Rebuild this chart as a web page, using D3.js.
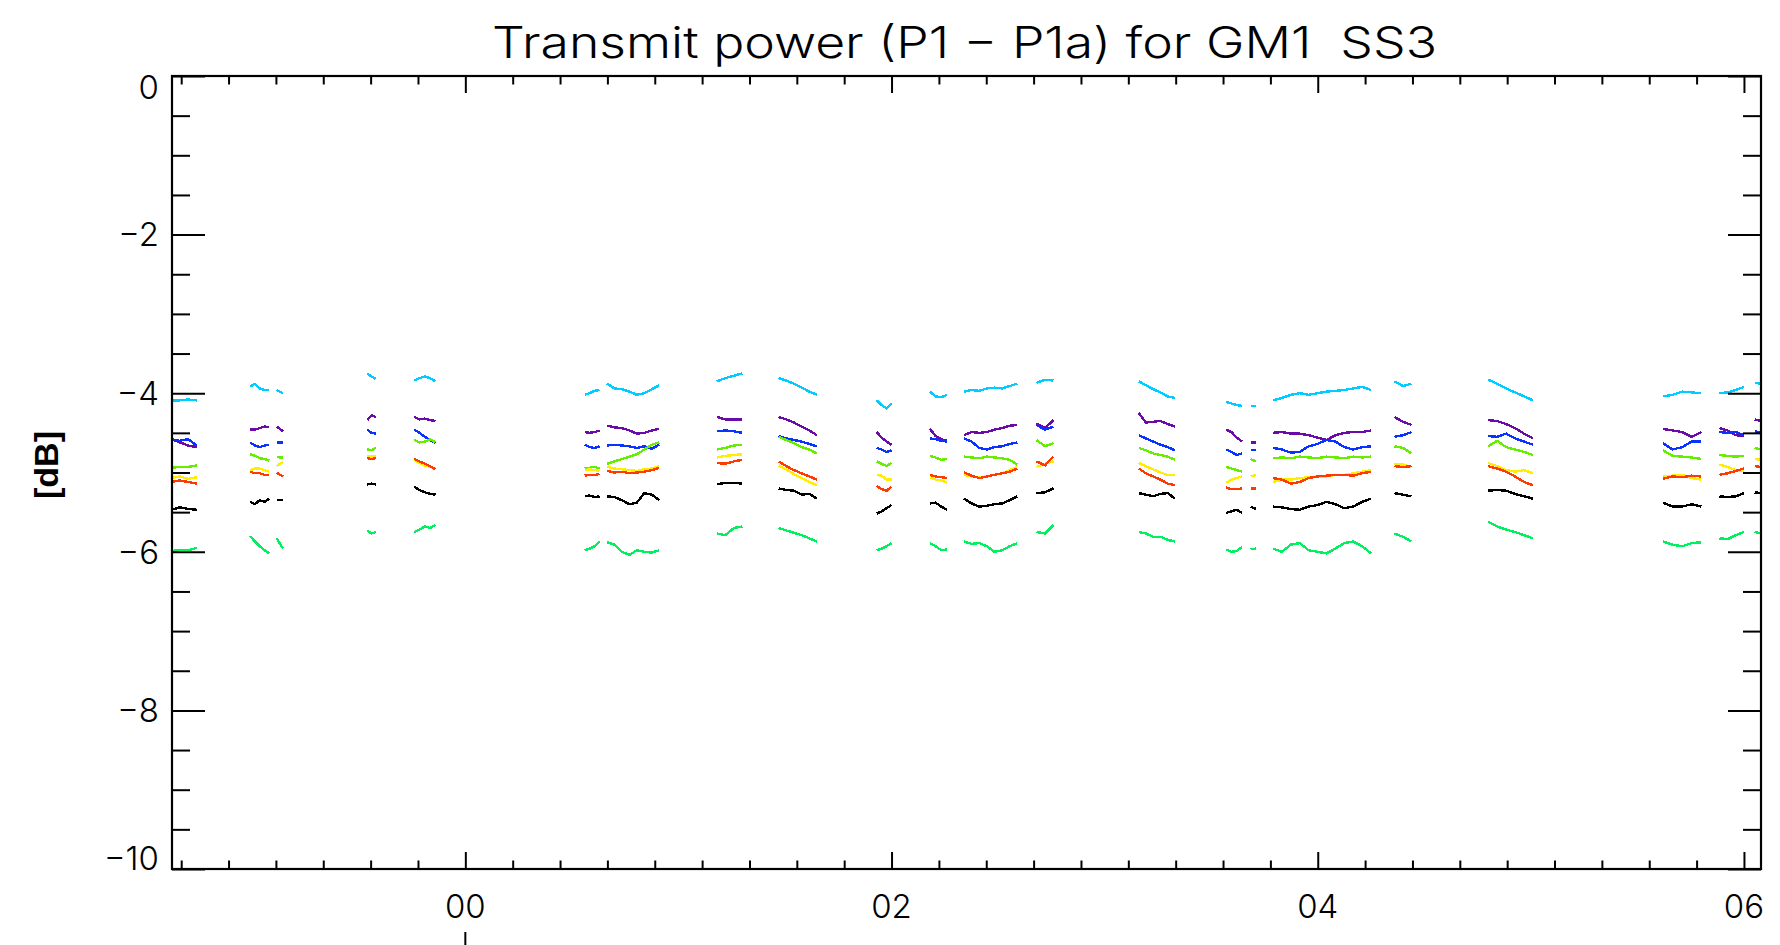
<!DOCTYPE html>
<html><head><meta charset="utf-8">
<script src="https://cdn.jsdelivr.net/npm/d3@7/dist/d3.min.js"></script>
<style>body{margin:0;background:#fff;} svg{display:block}</style>
</head><body><svg id="c" width="1780" height="945"></svg>
<script>
// ---------------- data ----------------
const title = "Transmit power (P1 \u2212 P1a) for GM1  SS3";
const yTitle = "[dB]";
const xDomain = [1998.6235, 2006.08];
const yDomain = [-10, 0];
const xMajorTicks = [2000, 2002, 2004, 2006];
const xTickLabels = ["00", "02", "04", "06"];
const yMajorTicks = [0, -2, -4, -6, -8, -10];
const yTickLabels = ["0", "\u22122", "\u22124", "\u22126", "\u22128", "\u221210"];

// observation segments (decimal years): A B1 B2 C D E1 E2 F G H I J K L M1 M2 N O P Q R S
const segStart = [1998.62,1998.99,1999.115,1999.54,1999.76,2000.56,2000.665,2001.18,2001.47,2001.93,2002.18,2002.34,2002.68,2003.16,2003.57,2003.685,2003.79,2004.36,2004.80,2005.62,2005.885,2006.05];
const segEnd   = [1998.74,1999.08,1999.145,1999.58,1999.86,2000.63,2000.91,2001.30,2001.65,2002.00,2002.26,2002.59,2002.76,2003.33,2003.645,2003.71,2004.25,2004.44,2005.01,2005.80,2006.00,2006.08];

const seriesColors = ["#00ccff","#6a0aa8","#0a32ff","#66ee00","#ffee00","#ff3a00","#000000","#00f060"];

const cyanS = [
 [-4.09,-4.09,-4.08,-4.09],
 [-3.92,-3.88,-3.94,-3.96,-3.96],
 [-3.96,-3.98,-4.0],
 [-3.75,-3.79,-3.82],
 [-3.84,-3.81,-3.79,-3.81,-3.85],
 [-4.02,-4.0,-3.97,-3.96],
 [-3.88,-3.94,-3.95,-3.98,-4.02,-4.0,-3.95,-3.90],
 [-3.85,-3.81,-3.78,-3.75],
 [-3.81,-3.84,-3.88,-3.93,-3.98,-4.02],
 [-4.09,-4.15,-4.19,-4.13],
 [-3.98,-4.04,-4.05,-4.02],
 [-3.98,-3.96,-3.97,-3.94,-3.93,-3.94,-3.91,-3.88],
 [-3.87,-3.83,-3.84],
 [-3.85,-3.90,-3.95,-3.99,-4.04,-4.06],
 [-4.11,-4.13,-4.15,-4.16],
 [-4.16,-4.16],
 [-4.09,-4.06,-4.02,-4.0,-4.02,-4.0,-3.98,-3.97,-3.96,-3.94,-3.92,-3.96],
 [-3.85,-3.91,-3.88],
 [-3.83,-3.88,-3.94,-3.99,-4.04,-4.09],
 [-4.04,-4.02,-3.98,-3.99,-4.0],
 [-4.0,-3.99,-3.96,-3.92],
 [-3.87,-3.88]
];
const purpleS = [
 [-4.58,-4.62,-4.66,-4.68],
 [-4.46,-4.46,-4.44,-4.42,-4.43],
 [-4.42,-4.45,-4.48],
 [-4.34,-4.28,-4.30],
 [-4.30,-4.33,-4.32,-4.34,-4.35],
 [-4.49,-4.50,-4.49,-4.47],
 [-4.41,-4.43,-4.44,-4.47,-4.51,-4.50,-4.47,-4.45],
 [-4.30,-4.33,-4.33,-4.33],
 [-4.30,-4.33,-4.37,-4.42,-4.47,-4.53],
 [-4.49,-4.56,-4.61,-4.65],
 [-4.45,-4.54,-4.58,-4.60],
 [-4.53,-4.49,-4.50,-4.49,-4.46,-4.44,-4.41,-4.40],
 [-4.38,-4.44,-4.34],
 [-4.25,-4.37,-4.36,-4.35,-4.39,-4.42],
 [-4.46,-4.49,-4.56,-4.61],
 [-4.62,-4.62],
 [-4.50,-4.49,-4.51,-4.51,-4.53,-4.56,-4.59,-4.53,-4.50,-4.49,-4.49,-4.47],
 [-4.30,-4.36,-4.40],
 [-4.34,-4.35,-4.39,-4.44,-4.51,-4.57],
 [-4.45,-4.47,-4.49,-4.55,-4.49],
 [-4.44,-4.47,-4.53,-4.54],
 [-4.33,-4.35]
];
const blueS = [
 [-4.58,-4.60,-4.58,-4.66],
 [-4.62,-4.66,-4.68,-4.66,-4.65],
 [-4.62,-4.62,-4.62],
 [-4.46,-4.50,-4.51],
 [-4.46,-4.50,-4.55,-4.59,-4.63],
 [-4.65,-4.68,-4.69,-4.67],
 [-4.66,-4.65,-4.66,-4.67,-4.69,-4.67,-4.70,-4.65],
 [-4.48,-4.47,-4.48,-4.50],
 [-4.54,-4.57,-4.59,-4.61,-4.64,-4.67],
 [-4.69,-4.71,-4.74,-4.72],
 [-4.57,-4.58,-4.60,-4.61],
 [-4.57,-4.61,-4.69,-4.71,-4.68,-4.67,-4.64,-4.62],
 [-4.40,-4.46,-4.42],
 [-4.53,-4.57,-4.61,-4.65,-4.68,-4.72],
 [-4.71,-4.74,-4.78,-4.76],
 [-4.72,-4.72],
 [-4.69,-4.71,-4.75,-4.74,-4.67,-4.64,-4.59,-4.61,-4.68,-4.71,-4.68,-4.67],
 [-4.55,-4.53,-4.49],
 [-4.54,-4.55,-4.51,-4.57,-4.61,-4.65],
 [-4.63,-4.71,-4.68,-4.61,-4.61],
 [-4.49,-4.50,-4.49,-4.53],
 [-4.48,-4.50]
];
const limeS = [
 [-4.94,-4.93,-4.93,-4.91],
 [-4.77,-4.79,-4.82,-4.83,-4.85],
 [-4.80,-4.81,-4.81],
 [-4.71,-4.72,-4.69],
 [-4.59,-4.62,-4.61,-4.58,-4.62],
 [-4.95,-4.94,-4.93,-4.95],
 [-4.89,-4.86,-4.83,-4.80,-4.77,-4.71,-4.65,-4.62],
 [-4.71,-4.69,-4.66,-4.65],
 [-4.55,-4.59,-4.63,-4.68,-4.71,-4.76],
 [-4.86,-4.89,-4.92,-4.88],
 [-4.79,-4.81,-4.84,-4.83],
 [-4.80,-4.81,-4.82,-4.80,-4.81,-4.82,-4.84,-4.90],
 [-4.59,-4.67,-4.63],
 [-4.69,-4.72,-4.76,-4.78,-4.80,-4.84],
 [-4.93,-4.95,-4.97,-4.99],
 [-4.83,-4.86],
 [-4.82,-4.81,-4.82,-4.80,-4.81,-4.82,-4.80,-4.81,-4.82,-4.80,-4.81,-4.80],
 [-4.67,-4.69,-4.76],
 [-4.67,-4.60,-4.68,-4.71,-4.74,-4.78],
 [-4.72,-4.79,-4.80,-4.81,-4.83],
 [-4.78,-4.79,-4.80,-4.79],
 [-4.69,-4.71]
];
const yellowS = [
 [-5.07,-5.05,-5.08,-5.06],
 [-4.97,-4.95,-4.95,-4.97,-4.99],
 [-4.92,-4.89,-4.87],
 [-4.79,-4.80,-4.79],
 [-4.84,-4.88,-4.91,-4.93,-4.95],
 [-4.97,-4.96,-4.97,-4.98],
 [-4.93,-4.95,-4.96,-4.97,-4.98,-4.96,-4.95,-4.92],
 [-4.81,-4.79,-4.78,-4.77],
 [-4.91,-4.96,-5.02,-5.07,-5.12,-5.16],
 [-5.03,-5.04,-5.09,-5.09],
 [-5.06,-5.09,-5.10,-5.13],
 [-5.03,-5.05,-5.06,-5.05,-5.03,-5.01,-4.97,-4.93],
 [-4.93,-4.89,-4.86],
 [-4.88,-4.92,-4.96,-5.0,-5.03,-5.03],
 [-5.13,-5.09,-5.07,-5.05],
 [-5.05,-5.03],
 [-5.12,-5.09,-5.09,-5.07,-5.06,-5.05,-5.05,-5.03,-5.03,-5.01,-4.99,-4.97],
 [-4.89,-4.90,-4.93],
 [-4.88,-4.92,-4.97,-4.99,-4.97,-5.01],
 [-5.05,-5.04,-5.03,-5.07,-5.09],
 [-4.90,-4.93,-4.97,-4.98],
 [-4.83,-4.84]
];
const orangeS = [
 [-5.12,-5.10,-5.12,-5.14],
 [-4.99,-5.01,-5.01,-5.03,-5.03],
 [-5.0,-5.03,-5.05],
 [-4.82,-4.83,-4.82],
 [-4.83,-4.86,-4.89,-4.92,-4.96],
 [-5.04,-5.03,-5.03,-5.02],
 [-4.98,-5.00,-4.99,-5.01,-5.00,-4.99,-4.97,-4.94],
 [-4.88,-4.89,-4.86,-4.84],
 [-4.86,-4.92,-4.97,-5.01,-5.05,-5.09],
 [-5.17,-5.21,-5.23,-5.18],
 [-5.03,-5.05,-5.06,-5.07],
 [-5.00,-5.04,-5.07,-5.05,-5.03,-5.01,-4.99,-4.95],
 [-4.86,-4.91,-4.80],
 [-4.95,-5.01,-5.05,-5.09,-5.14,-5.16],
 [-5.19,-5.21,-5.21,-5.20],
 [-5.20,-5.20],
 [-5.07,-5.09,-5.14,-5.12,-5.07,-5.05,-5.04,-5.03,-5.03,-5.04,-5.01,-4.99],
 [-4.92,-4.93,-4.92],
 [-4.92,-4.95,-4.99,-5.05,-5.12,-5.16],
 [-5.08,-5.05,-5.06,-5.04,-5.05],
 [-5.03,-5.01,-4.98,-4.95],
 [-4.92,-4.93]
];
const blackS = [
 [-5.47,-5.44,-5.46,-5.47],
 [-5.37,-5.40,-5.35,-5.37,-5.33],
 [-5.35,-5.35,-5.35],
 [-5.15,-5.14,-5.15],
 [-5.18,-5.22,-5.25,-5.27,-5.28],
 [-5.30,-5.29,-5.31,-5.30],
 [-5.30,-5.31,-5.35,-5.40,-5.38,-5.26,-5.28,-5.35],
 [-5.15,-5.13,-5.13,-5.14],
 [-5.20,-5.22,-5.23,-5.28,-5.27,-5.33],
 [-5.52,-5.49,-5.45,-5.41],
 [-5.39,-5.38,-5.43,-5.47],
 [-5.33,-5.39,-5.43,-5.42,-5.40,-5.39,-5.35,-5.30],
 [-5.26,-5.25,-5.20],
 [-5.26,-5.28,-5.30,-5.27,-5.26,-5.33],
 [-5.51,-5.49,-5.47,-5.51],
 [-5.43,-5.46],
 [-5.43,-5.44,-5.46,-5.47,-5.43,-5.41,-5.37,-5.40,-5.45,-5.43,-5.37,-5.33],
 [-5.26,-5.28,-5.30],
 [-5.23,-5.22,-5.23,-5.27,-5.30,-5.33],
 [-5.38,-5.43,-5.43,-5.40,-5.43],
 [-5.30,-5.31,-5.30,-5.26],
 [-5.25,-5.26]
];
const springS = [
 [-5.99,-5.98,-5.98,-5.95],
 [-5.80,-5.87,-5.93,-5.98,-6.02],
 [-5.83,-5.90,-5.96],
 [-5.73,-5.77,-5.75],
 [-5.75,-5.72,-5.68,-5.70,-5.66],
 [-5.98,-5.96,-5.93,-5.87],
 [-5.88,-5.91,-6.0,-6.04,-5.98,-6.0,-6.01,-5.98],
 [-5.77,-5.79,-5.70,-5.68],
 [-5.70,-5.73,-5.76,-5.79,-5.83,-5.87],
 [-5.98,-5.96,-5.93,-5.89],
 [-5.89,-5.93,-5.98,-5.97],
 [-5.87,-5.90,-5.89,-5.93,-6.0,-5.98,-5.93,-5.89],
 [-5.75,-5.77,-5.66],
 [-5.75,-5.77,-5.81,-5.81,-5.85,-5.87],
 [-5.97,-6.0,-5.99,-5.94],
 [-5.97,-5.96],
 [-5.96,-6.0,-5.91,-5.89,-5.98,-6.0,-6.02,-5.96,-5.89,-5.87,-5.93,-6.02],
 [-5.77,-5.81,-5.87],
 [-5.62,-5.68,-5.72,-5.75,-5.79,-5.83],
 [-5.87,-5.91,-5.93,-5.89,-5.88],
 [-5.83,-5.84,-5.79,-5.75],
 [-5.75,-5.77]
];
const allSeries = [cyanS, purpleS, blueS, limeS, yellowS, orangeS, blackS, springS];

// ---------------- layout ----------------
const L = 172, R = 1761, T = 76, B = 869;
const svg = d3.select("#c");
const x = d3.scaleLinear().domain(xDomain).range([L, R]);
const y = d3.scaleLinear().domain(yDomain).range([B, T]);
const font = "Inter, 'DejaVu Sans', sans-serif";

svg.append("rect").attr("width",1780).attr("height",945).attr("fill","#fff");

svg.append("defs").append("clipPath").attr("id","clip")
  .append("rect").attr("x",L).attr("y",T).attr("width",R-L).attr("height",B-T);

// data lines
const line = d3.line().x(d => x(d[0])).y(d => y(d[1]));
const gData = svg.append("g").attr("clip-path","url(#clip)");
allSeries.forEach((ser, si) => {
  ser.forEach((vals, k) => {
    const t0 = segStart[k], t1 = segEnd[k], n = vals.length;
    const pts = vals.map((v, j) => [n > 1 ? t0 + (t1 - t0) * j / (n - 1) : t0, v]);
    gData.append("path").attr("d", line(pts))
      .attr("fill","none").attr("stroke", seriesColors[si])
      .attr("stroke-width", 2.4).attr("shape-rendering","crispEdges");
  });
});

// ticks
const xMinor = d3.range(-6, 28).map(k => 2000 + k * 2 / 9).filter(v => v > xDomain[0] && v < xDomain[1] && !xMajorTicks.some(m => Math.abs(m - v) < 1e-6));
const yMinor = d3.range(-10, 0.01, 0.5).filter(v => !yMajorTicks.includes(v));

function styleAxis(g){ g.select(".domain").remove(); g.selectAll("text").remove(); g.selectAll("line").attr("stroke","#000").attr("stroke-width",2); }

svg.append("g").attr("transform",`translate(0,${B})`).call(d3.axisBottom(x).tickValues(xMajorTicks).tickSize(-17)).call(styleAxis);
svg.append("g").attr("transform",`translate(0,${B})`).call(d3.axisBottom(x).tickValues(xMinor).tickSize(-8.5)).call(styleAxis);
svg.append("g").attr("transform",`translate(0,${T})`).call(d3.axisTop(x).tickValues(xMajorTicks).tickSize(-17)).call(styleAxis);
svg.append("g").attr("transform",`translate(0,${T})`).call(d3.axisTop(x).tickValues(xMinor).tickSize(-8.5)).call(styleAxis);
svg.append("g").attr("transform",`translate(${L},0)`).call(d3.axisLeft(y).tickValues(yMajorTicks).tickSize(-33)).call(styleAxis);
svg.append("g").attr("transform",`translate(${L},0)`).call(d3.axisLeft(y).tickValues(yMinor).tickSize(-18)).call(styleAxis);
svg.append("g").attr("transform",`translate(${R},0)`).call(d3.axisRight(y).tickValues(yMajorTicks).tickSize(-33)).call(styleAxis);
svg.append("g").attr("transform",`translate(${R},0)`).call(d3.axisRight(y).tickValues(yMinor).tickSize(-18)).call(styleAxis);

// frame
svg.append("rect").attr("x",L).attr("y",T).attr("width",R-L).attr("height",B-T)
  .attr("fill","none").attr("stroke","#000").attr("stroke-width",2.2);

// tick labels
yMajorTicks.forEach((v, i) => {
  let cy = y(v);
  if (i === 0) cy += 11; else if (i === yMajorTicks.length - 1) cy -= 11;
  svg.append("text").attr("x", L - 13).attr("y", cy).attr("dy","0.36em")
    .attr("text-anchor","end").attr("font-family",font).attr("font-weight",300).attr("font-size",33)
    .text(yTickLabels[i]);
});
xMajorTicks.forEach((v, i) => {
  svg.append("text").attr("x", x(v)).attr("y", 918)
    .attr("text-anchor","middle").attr("font-family",font).attr("font-weight",300).attr("font-size",33)
    .text(xTickLabels[i]);
});
// small mark of a second label row under "00"
svg.append("line").attr("x1", x(xMajorTicks[0])).attr("x2", x(xMajorTicks[0]))
  .attr("y1", 932).attr("y2", 945).attr("stroke","#000").attr("stroke-width",2);

// title
svg.append("text").attr("x", 492).attr("y", 58)
  .attr("font-family",font).attr("font-weight",300).attr("font-size",43)
  .attr("textLength", 945).attr("lengthAdjust","spacingAndGlyphs")
  .style("white-space","pre").text(title);

// y title
svg.append("text").attr("transform","translate(58,465) rotate(-90)")
  .attr("text-anchor","middle").attr("font-family","'Liberation Sans', Arial, sans-serif").attr("font-weight","bold")
  .attr("font-size",34).text(yTitle);
</script></body></html>
